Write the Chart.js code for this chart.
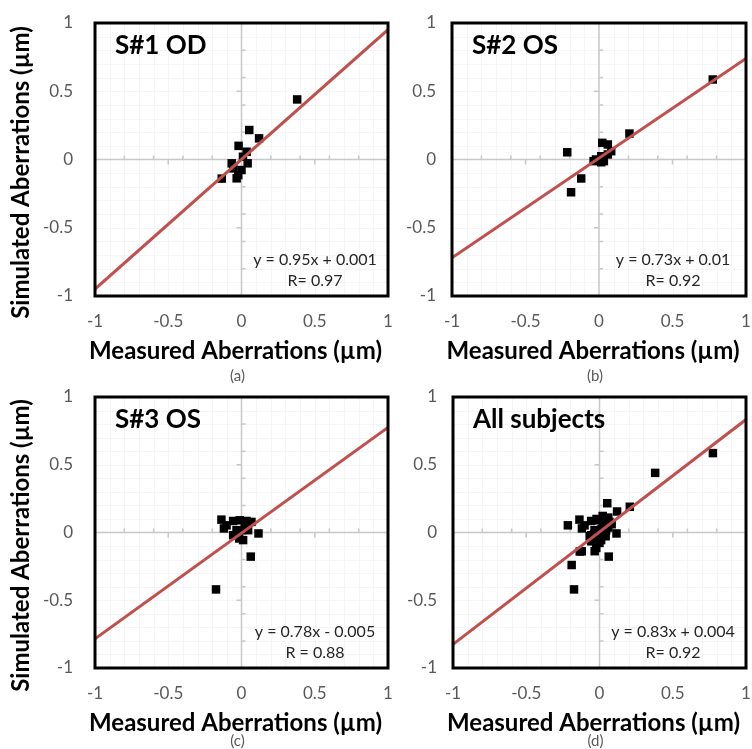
<!DOCTYPE html>
<html>
<head>
<meta charset="utf-8">
<script src="https://cdn.jsdelivr.net/npm/chart.js@4.4.1/dist/chart.umd.min.js"></script>
<style>
  html, body { margin: 0; padding: 0; background: #fff; }
  #wrap { position: relative; width: 752px; height: 749px; }
  canvas { position: absolute; }
</style>
</head>
<body>
<div id="wrap">
  <canvas id="c0" width="396" height="384" style="left:0;top:0"></canvas>
  <canvas id="c1" width="356" height="384" style="left:396px;top:0"></canvas>
  <canvas id="c2" width="396" height="365" style="left:0;top:384px"></canvas>
  <canvas id="c3" width="356" height="365" style="left:396px;top:384px"></canvas>
</div>
<script>
// Subject 1, right eye (OD): measured vs simulated aberrations (µm)
const s1Measured  = [0.38, 0.053, 0.12, -0.02, 0.035, 0.042, -0.067, -0.056, -0.022, -0.033, -0.135, 0.0, 0.01];
const s1Simulated = [0.44, 0.216, 0.155, 0.10, 0.057, -0.028, -0.028, -0.065, -0.114, -0.138, -0.14, -0.077, 0.02];

// Subject 2, left eye (OS)
const s2Measured  = [0.774, 0.207, -0.216, -0.121, -0.19, 0.022, 0.06, 0.083, 0.06, 0.015, -0.02, 0.015, 0.033, -0.037];
const s2Simulated = [0.586, 0.19, 0.053, -0.139, -0.24, 0.122, 0.11, 0.061, 0.037, 0.024, 0.0, -0.02, -0.012, -0.012];

// Subject 3, left eye (OS)
const s3Measured  = [-0.174, 0.063, 0.116, -0.137, -0.12, -0.102, -0.057, -0.012, 0.034, 0.068, -0.034, 0.0, -0.057, -0.016, 0.011, 0.045, 0.022, -0.045];
const s3Simulated = [-0.42, -0.178, -0.007, 0.095, 0.03, 0.053, 0.085, 0.09, 0.085, 0.078, 0.017, 0.017, -0.02, -0.044, -0.056, 0.017, 0.053, -0.02];

// All subjects pooled
const allMeasured  = s1Measured.concat(s2Measured, s3Measured);
const allSimulated = s1Simulated.concat(s2Simulated, s3Simulated);

const panelTitles   = ['S#1 OD', 'S#2 OS', 'S#3 OS', 'All subjects'];
const fitSlopes     = [0.95, 0.73, 0.78, 0.83];
const fitIntercepts = [0.001, 0.01, -0.005, 0.004];
const rLabels       = ['R= 0.97', 'R= 0.92', 'R = 0.88', 'R= 0.92'];
const panelTags     = ['(a)', '(b)', '(c)', '(d)'];

const axisTicks  = [-1, -0.5, 0, 0.5, 1];
const majorTicks = [-0.5, 0.5];
const minorTicks = [-0.8, -0.6, -0.4, -0.2, 0.2, 0.4, 0.6, 0.8];
const gridSteps  = [-0.9, -0.8, -0.7, -0.6, -0.5, -0.4, -0.3, -0.2, -0.1, 0.1, 0.2, 0.3, 0.4, 0.5, 0.6, 0.7, 0.8, 0.9];

const FONT = 'Lato, "DejaVu Sans", sans-serif';
const FIT_RED = '#c0504d';

// sizes of the axis boxes so every plot area lands at the same spot
const layouts = [
    { yAxisWidth: 95, top: 23, xAxisHeight: 88, right: 8, yGap: 22, yTitle: true },
    { yAxisWidth: 56, top: 23, xAxisHeight: 88, right: 6, yGap: 16, yTitle: false },
    { yAxisWidth: 95, top: 13, xAxisHeight: 81, right: 8, yGap: 22, yTitle: true },
    { yAxisWidth: 57, top: 13, xAxisHeight: 81, right: 6, yGap: 16, yTitle: false }
];

const seriesX = [s1Measured, s2Measured, s3Measured, allMeasured];
const seriesY = [s1Simulated, s2Simulated, s3Simulated, allSimulated];

function equationText(m, b) {
    return 'y = ' + m + 'x ' + (b < 0 ? '- ' : '+ ') + Math.abs(b);
}

// axes through the origin, cross ticks, faint grid, box and the panel text
const panelDecor = {
    id: 'panelDecor',
    beforeDatasetsDraw(chart, args, opts) {
        const { ctx, chartArea: a, scales: { x, y } } = chart;
        const x0 = x.getPixelForValue(0);
        const y0 = y.getPixelForValue(0);
        ctx.save();
        ctx.strokeStyle = '#f5f5f5';
        ctx.lineWidth = 1;
        gridSteps.forEach(v => {
            const px = Math.round(x.getPixelForValue(v)) + 0.5;
            const py = Math.round(y.getPixelForValue(v)) + 0.5;
            ctx.beginPath();
            ctx.moveTo(px, a.top); ctx.lineTo(px, a.bottom);
            ctx.moveTo(a.left, py); ctx.lineTo(a.right, py);
            ctx.stroke();
        });
        ctx.strokeStyle = '#c8c8c8';
        ctx.lineWidth = 1.5;
        ctx.beginPath();
        ctx.moveTo(x0, a.top); ctx.lineTo(x0, a.bottom);
        ctx.moveTo(a.left, y0); ctx.lineTo(a.right, y0);
        minorTicks.forEach(v => {
            const px = x.getPixelForValue(v);
            const py = y.getPixelForValue(v);
            ctx.moveTo(px, y0); ctx.lineTo(px, y0 - 4);
            ctx.moveTo(x0, py); ctx.lineTo(x0 + 4, py);
        });
        majorTicks.forEach(v => {
            const px = x.getPixelForValue(v);
            const py = y.getPixelForValue(v);
            ctx.moveTo(px, y0); ctx.lineTo(px, y0 + 5);
            ctx.moveTo(x0, py); ctx.lineTo(x0 - 5, py);
        });
        ctx.stroke();
        ctx.restore();
    },
    afterDraw(chart, args, opts) {
        const { ctx, chartArea: a } = chart;
        const i = opts.index;
        ctx.save();
        ctx.strokeStyle = '#000';
        ctx.lineWidth = 3;
        ctx.strokeRect(a.left, a.top, a.right - a.left, a.bottom - a.top);

        // panel title
        ctx.fillStyle = '#000';
        ctx.font = 'bold 26px ' + FONT;
        ctx.textAlign = 'left';
        ctx.textBaseline = 'alphabetic';
        ctx.fillText(panelTitles[i], a.left + 20, a.top + 31);

        // regression equation and correlation
        ctx.fillStyle = '#262626';
        ctx.font = '16px ' + FONT;
        ctx.textAlign = 'center';
        ctx.textBaseline = 'middle';
        ctx.fillText(equationText(fitSlopes[i], fitIntercepts[i]), a.right - 73, a.bottom - 36);
        ctx.fillText(rLabels[i], a.right - 73, a.bottom - 15);

        const cx = (a.left + a.right) / 2 - 6;
        ctx.fillStyle = '#000';
        ctx.font = 'bold 24px ' + FONT;
        ctx.fillText('Measured Aberrations (µm)', cx, a.bottom + 55);

        ctx.fillStyle = '#595959';
        ctx.font = '15px ' + FONT;
        ctx.fillText(panelTags[i], cx + 2, chart.height - 8);

        if (opts.yTitle) {
            ctx.translate(21, (a.top + a.bottom) / 2 + 13);
            ctx.rotate(-Math.PI / 2);
            ctx.fillStyle = '#000';
            ctx.font = 'bold 24px ' + FONT;
            ctx.fillText('Simulated Aberrations (µm)', 0, 0);
        }
        ctx.restore();
    }
};

// the label gap comes from an invisible tick mark, so it does not eat into the plot area
function tickScale(gap, extra) {
    return Object.assign({
        type: 'linear',
        min: -1,
        max: 1,
        afterBuildTicks: s => { s.ticks = axisTicks.map(v => ({ value: v })); },
        grid: {
            display: true,
            drawOnChartArea: false,
            drawTicks: true,
            tickLength: gap,
            color: 'rgba(0,0,0,0)'
        },
        border: { display: false }
    }, extra);
}

function buildPanel(i) {
    const L = layouts[i];
    const m = fitSlopes[i];
    const b = fitIntercepts[i];
    const points = seriesX[i].map((v, k) => ({ x: v, y: seriesY[i][k] }));
    const fitLine = [{ x: -1, y: m * -1 + b }, { x: 1, y: m * 1 + b }];

    return new Chart(document.getElementById('c' + i), {
        type: 'scatter',
        data: {
            datasets: [
                {
                    data: fitLine,
                    showLine: true,
                    borderColor: FIT_RED,
                    borderWidth: 3,
                    pointRadius: 0,
                    order: 0
                },
                {
                    data: points,
                    pointStyle: 'rect',
                    pointRadius: 6,
                    backgroundColor: '#000',
                    borderWidth: 0,
                    order: 1
                }
            ]
        },
        options: {
            responsive: false,
            animation: false,
            layout: { padding: { top: L.top, right: L.right, left: 0, bottom: 0 } },
            plugins: {
                legend: { display: false },
                tooltip: { enabled: false },
                panelDecor: { index: i, yTitle: L.yTitle }
            },
            scales: {
                x: tickScale(15, {
                    position: 'bottom',
                    ticks: {
                        callback: v => String(v),
                        color: '#595959',
                        font: { family: FONT, size: 17 },
                        padding: 0,
                        maxRotation: 0,
                        autoSkip: false
                    },
                    afterFit: s => { s.height = L.xAxisHeight; }
                }),
                y: tickScale(L.yGap, {
                    position: 'left',
                    ticks: {
                        callback: v => String(v),
                        color: '#595959',
                        font: { family: FONT, size: 17 },
                        padding: 0,
                        autoSkip: false
                    },
                    afterFit: s => { s.width = L.yAxisWidth; }
                })
            }
        },
        plugins: [panelDecor]
    });
}

[0, 1, 2, 3].forEach(buildPanel);
</script>
</body>
</html>
